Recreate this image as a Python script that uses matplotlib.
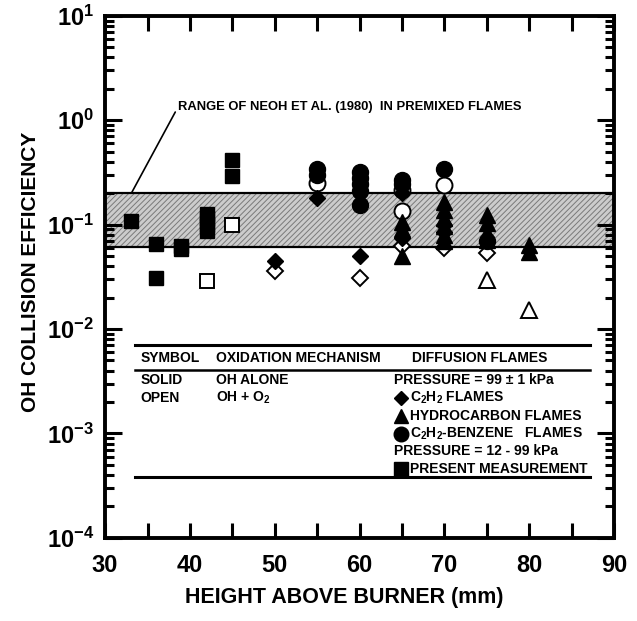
import numpy as np
import matplotlib
matplotlib.use("Agg")
import matplotlib.pyplot as plt
from matplotlib.ticker import LogLocator, FuncFormatter, MultipleLocator, NullFormatter

plt.rcParams['font.family'] = ['Liberation Sans', 'DejaVu Sans']
plt.rcParams['font.weight'] = 'bold'
plt.rcParams['axes.labelweight'] = 'bold'
plt.rcParams['mathtext.fontset'] = 'custom'
plt.rcParams['mathtext.rm'] = 'Liberation Sans:bold'
plt.rcParams['mathtext.bf'] = 'Liberation Sans:bold'
plt.rcParams['mathtext.it'] = 'Liberation Sans:bold'
plt.rcParams['mathtext.default'] = 'rm'
plt.rcParams['hatch.linewidth'] = 0.7

# present measurement (squares)
sq_solid_x = [33, 36, 36, 39, 39, 42, 42, 42, 42, 45, 45]
sq_solid_y = [0.108, 0.065, 0.031, 0.058, 0.062, 0.086, 0.10, 0.115, 0.127, 0.42, 0.29]
sq_open_x = [42, 45]
sq_open_y = [0.0285, 0.10]

# C2H2 flames (diamonds)
dia_solid_x = [50, 55, 60, 65, 65, 70, 70]
dia_solid_y = [0.045, 0.18, 0.05, 0.20, 0.075, 0.10, 0.085]
dia_open_x = [50, 60, 65, 70, 75]
dia_open_y = [0.036, 0.031, 0.063, 0.060, 0.053]

# hydrocarbon flames (triangles)
tri_solid_x = [65, 65, 65, 70, 70, 70, 70, 70, 70, 75, 75, 75, 75, 80, 80]
tri_solid_y = [0.105, 0.09, 0.05, 0.166, 0.139, 0.115, 0.096, 0.080, 0.069,
               0.124, 0.103, 0.083, 0.071, 0.064, 0.055]
tri_open_x = [75, 80]
tri_open_y = [0.0296, 0.0153]

# C2H2-benzene flames (circles)
cir_solid_x = [55, 55, 60, 60, 60, 60, 60, 65, 65, 70, 75]
cir_solid_y = [0.34, 0.30, 0.32, 0.28, 0.245, 0.21, 0.155, 0.27, 0.245, 0.34, 0.07]
cir_open_x = [55, 65, 65, 70]
cir_open_y = [0.25, 0.215, 0.134, 0.24]

# Neoh et al. range
band_lo, band_hi = 0.061, 0.2

fig = plt.figure(figsize=(6.37, 6.21), dpi=100)
ax = fig.add_axes([0.165, 0.134, 0.799, 0.8406])
ax.set_yscale('log')
ax.set_xlim(30, 90)
ax.set_ylim(1e-4, 10)

ax.fill_between([30, 90], band_lo, band_hi, facecolor='#cccccc', edgecolor='#7a7a7a',
                hatch='//////', linewidth=0, zorder=1)
ax.axhline(band_lo, color='k', lw=1.6, zorder=2)
ax.axhline(band_hi, color='k', lw=1.6, zorder=2)
ax.annotate('RANGE OF NEOH ET AL. (1980)  IN PREMIXED FLAMES', xy=(33.1, band_hi),
            xytext=(38.6, 1.34), fontsize=9.4, va='center', ha='left',
            arrowprops=dict(arrowstyle='-', color='k', lw=1.2, shrinkA=0, shrinkB=0,
                            relpos=(0, 0.5)))

ow = dict(mfc='white', mec='k', mew=1.4, ls='none', zorder=3)
fw = dict(color='k', ls='none', zorder=4)
ax.plot(sq_open_x, sq_open_y, 's', ms=10, **ow)
ax.plot(dia_open_x, dia_open_y, 'D', ms=8, **ow)
ax.plot(tri_open_x, tri_open_y, '^', ms=11, **ow)
ax.plot(cir_open_x, cir_open_y, 'o', ms=11.5, **ow)
ax.plot(sq_solid_x, sq_solid_y, 's', ms=10, **fw)
ax.plot(dia_solid_x, dia_solid_y, 'D', ms=8, **fw)
ax.plot(tri_solid_x, tri_solid_y, '^', ms=11, **fw)
ax.plot(cir_solid_x, cir_solid_y, 'o', ms=11.5, **fw)

# symbol table
T = ax.transAxes
for yy, lw in [(0.3697, 2.2), (0.3218, 1.8), (0.1169, 2.2)]:
    ax.plot([0.059, 0.953], [yy, yy], color='k', lw=lw, transform=T, zorder=5)
fs = 10
ax.text(0.070, 0.3443, 'SYMBOL', transform=T, fontsize=fs, va='center')
ax.text(0.218, 0.3443, 'OXIDATION MECHANISM', transform=T, fontsize=fs, va='center')
ax.text(0.602, 0.3443, 'DIFFUSION FLAMES', transform=T, fontsize=fs, va='center')
ax.text(0.070, 0.3017, 'SOLID', transform=T, fontsize=fs, va='center')
ax.text(0.218, 0.3017, 'OH ALONE', transform=T, fontsize=fs, va='center')
ax.text(0.070, 0.2682, 'OPEN', transform=T, fontsize=fs, va='center')
ax.text(0.218, 0.2682, r'OH + O$_2$', transform=T, fontsize=fs, va='center')
ax.text(0.568, 0.3017, 'PRESSURE = 99 \u00b1 1 kPa', transform=T, fontsize=fs, va='center')
ax.text(0.600, 0.2682, r'C$_2$H$_2$ FLAMES', transform=T, fontsize=fs, va='center')
ax.text(0.600, 0.2337, 'HYDROCARBON FLAMES', transform=T, fontsize=fs, va='center')
ax.text(0.600, 0.1992, r'C$_2$H$_2$-BENZENE   FLAMES', transform=T, fontsize=fs, va='center')
ax.text(0.568, 0.1653, 'PRESSURE = 12 - 99 kPa', transform=T, fontsize=fs, va='center')
ax.text(0.600, 0.1316, 'PRESENT MEASUREMENT', transform=T, fontsize=fs, va='center')
ax.plot([0.581], [0.2682], 'D', ms=7, color='k', transform=T, clip_on=False)
ax.plot([0.581], [0.2337], '^', ms=10, color='k', transform=T, clip_on=False)
ax.plot([0.581], [0.1992], 'o', ms=10.5, color='k', transform=T, clip_on=False)
ax.plot([0.581], [0.1316], 's', ms=9.5, color='k', transform=T, clip_on=False)

# axes styling
for s in ax.spines.values():
    s.set_linewidth(2.8)
ax.xaxis.set_major_locator(MultipleLocator(10))
ax.xaxis.set_minor_locator(MultipleLocator(5))
ax.yaxis.set_major_locator(LogLocator(base=10, numticks=20))
ax.yaxis.set_minor_locator(LogLocator(base=10, subs=np.arange(2, 10), numticks=20))
ax.yaxis.set_minor_formatter(NullFormatter())
ax.yaxis.set_major_formatter(FuncFormatter(lambda v, p: r'$10^{%d}$' % int(round(np.log10(v)))))
ax.tick_params(which='both', direction='in', top=True, right=True, width=2.2)
ax.tick_params(axis='x', which='both', length=10.8, pad=12, labelsize=17)
ax.tick_params(axis='y', which='major', length=12, pad=8, labelsize=17)
ax.tick_params(axis='y', which='minor', length=6.5)

ax.set_xlabel('HEIGHT ABOVE BURNER (mm)', fontsize=15.5)
ax.set_ylabel('OH COLLISION EFFICIENCY', fontsize=15)
ax.xaxis.set_label_coords(0.47, -0.095)
ax.yaxis.set_label_coords(-0.147, 0.51)
ax.yaxis.label.set_verticalalignment('center')

fig.savefig('out.png', dpi=100)
